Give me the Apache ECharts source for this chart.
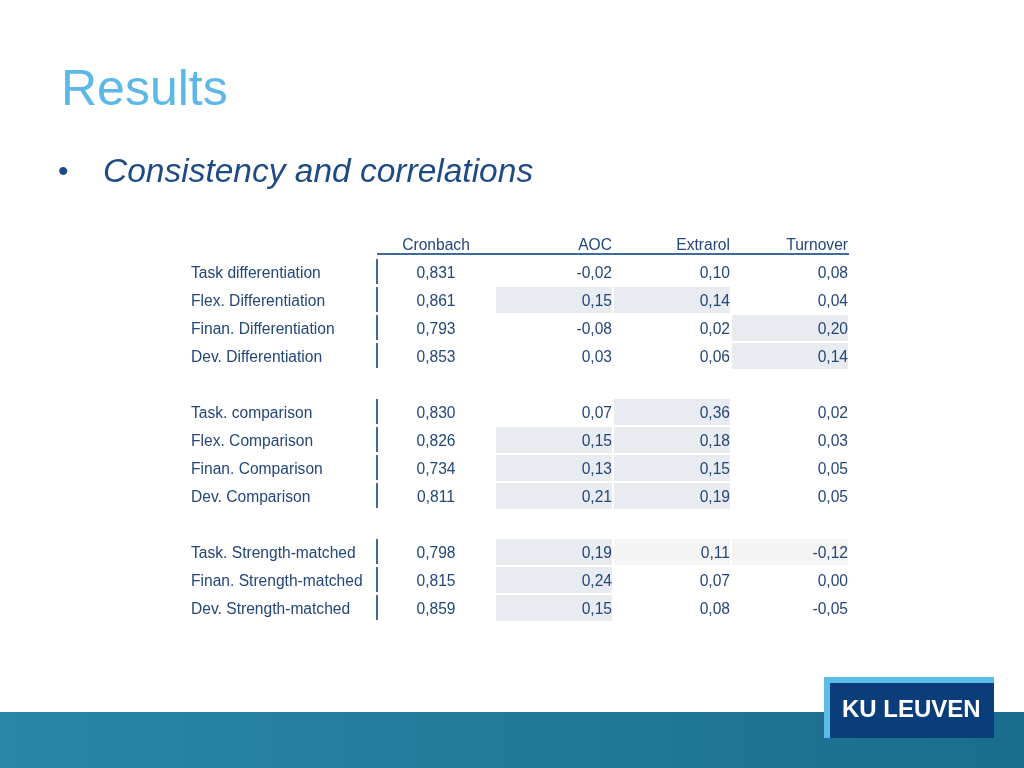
<!DOCTYPE html>
<html><head><meta charset="utf-8">
<script src="https://cdn.jsdelivr.net/npm/echarts@6/dist/echarts.min.js"></script>
<style>html,body{margin:0;padding:0;background:#fff}#c{width:1024px;height:768px}</style>
</head><body><div id="c"></div>
<script>
const columns = ['Cronbach', 'AOC', 'Extrarol', 'Turnover'];
const rowLabels = ['Task differentiation','Flex. Differentiation','Finan. Differentiation','Dev. Differentiation',
  'Task. comparison','Flex. Comparison','Finan. Comparison','Dev. Comparison',
  'Task. Strength-matched','Finan. Strength-matched','Dev. Strength-matched'];
const rowSlots = [0,1,2,3,5,6,7,8,10,11,12];
const cronbach = [0.831,0.861,0.793,0.853,0.830,0.826,0.734,0.811,0.798,0.815,0.859];
const aoc      = [-0.02,0.15,-0.08,0.03,0.07,0.15,0.13,0.21,0.19,0.24,0.15];
const extrarol = [0.10,0.14,0.02,0.06,0.36,0.18,0.15,0.19,0.11,0.07,0.08];
const turnover = [0.08,0.04,0.20,0.14,0.02,0.03,0.05,0.05,-0.12,0.00,-0.05];
// shading: 0 none, 1 highlighted, 2 faint
const shadeAoc = [0,1,0,0,0,1,1,1,1,1,1];
const shadeExt = [0,1,0,0,1,1,1,1,2,0,0];
const shadeTurn = [0,0,1,1,0,0,0,0,2,0,0];

const fmt = (v, d) => v.toFixed(d).replace('.', ',');
const data = [];
rowLabels.forEach((lab, i) => { data.push([rowSlots[i], i]); });
const cols = [cronbach, aoc, extrarol, turnover];
const shades = [null, shadeAoc, shadeExt, shadeTurn];
const txtColor = '#24467a';
const FONT = '15.6px "Liberation Sans", Arial';
const DY = 2;
const chart = echarts.init(document.getElementById('c'));
chart.setOption({
  animation: false,
  graphic: [
    {type:'text', left:61, top:66, style:{text:'Results', fill:'#5cb8e6', font:'50px "Liberation Sans", Arial'}},
    {type:'text', left:58, top:158, style:{text:'•', fill:'#1e4a86', font:'30px "Liberation Sans", Arial'}},
    {type:'text', left:103, top:156, style:{text:'Consistency and correlations', fill:'#1e4a86', font:'italic 33.5px "Liberation Sans", Arial'}},
    {type:'rect', shape:{x:0,y:712,width:1024,height:56}, style:{fill:new echarts.graphic.LinearGradient(0,0,1,0,[{offset:0,color:'#2a86a6'},{offset:1,color:'#1a6d8c'}])}},
    {type:'rect', shape:{x:824,y:677,width:170,height:61}, style:{fill:'#5bbbe9'}},
    {type:'rect', shape:{x:830,y:683,width:164,height:55}, style:{fill:'#0b3d7a'}},
    {type:'text', left:842, top:698, style:{text:'KU LEUVEN', fill:'#fff', font:'bold 24px "Liberation Sans", Arial'}}
  ],
  grid: {left:377, right:175, top:230, bottom:146},
  xAxis: {type:'value', min:0, max:4, show:false},
  yAxis: {type:'value', min:-1.5, max:12.5, inverse:true, show:false},
  series: [{
    type:'custom',
    data: data,
    renderItem: function(params, api) {
      const slot = api.value(0), idx = api.value(1);
      const children = [];
      const top = api.coord([0, slot - 0.5]);
      const bot = api.coord([0, slot + 0.5]);
      for (let c = 1; c < 4; c++) {
        const s = shades[c][idx];
        if (s) {
          const p0 = api.coord([c, slot - 0.5]);
          const p1 = api.coord([c + 1, slot + 0.5]);
          children.push({type:'rect', shape:{x:p0[0]+1, y:p0[1]+1, width:p1[0]-p0[0]-2, height:p1[1]-p0[1]-2},
            style:{fill: s === 1 ? '#e8ecf1' : '#f4f4f4'}});
        }
      }
      children.push({type:'line', shape:{x1:top[0], y1:top[1]+1, x2:top[0], y2:bot[1]-2}, style:{stroke:'#3f6a9a', lineWidth:2}});
      const mid = api.coord([0, slot]);
      children.push({type:'text', x: mid[0]-186, y: mid[1]+DY, style:{text: rowLabels[idx], fill:txtColor, font:FONT, textVerticalAlign:'middle', textAlign:'left'}});
      const cm = api.coord([0.5, slot]);
      children.push({type:'text', x: cm[0], y: cm[1]+DY, style:{text: fmt(cronbach[idx],3), fill:txtColor, font:FONT, textVerticalAlign:'middle', textAlign:'center'}});
      for (let c = 1; c < 4; c++) {
        const p = api.coord([c + 1, slot]);
        children.push({type:'text', x: p[0]-1, y: p[1]+DY, style:{text: fmt(cols[c][idx],2), fill:txtColor, font:FONT, textVerticalAlign:'middle', textAlign:'right'}});
      }
      if (idx === 0) {
        const h0 = api.coord([0, -0.64]), h1 = api.coord([4, -0.64]);
        children.push({type:'line', shape:{x1:h0[0], y1:h0[1], x2:h1[0], y2:h1[1]}, style:{stroke:'#3f6a9a', lineWidth:2}});
        const hc = api.coord([0.5, -1]);
        children.push({type:'text', x: hc[0], y: hc[1]+DY, style:{text: columns[0], fill:txtColor, font:FONT, textVerticalAlign:'middle', textAlign:'center'}});
        for (let c = 1; c < 4; c++) {
          const p = api.coord([c + 1, -1]);
          children.push({type:'text', x: p[0]-1, y: p[1]+DY, style:{text: columns[c], fill:txtColor, font:FONT, textVerticalAlign:'middle', textAlign:'right'}});
        }
      }
      return {type:'group', children: children};
    }
  }]
});
</script></body></html>
